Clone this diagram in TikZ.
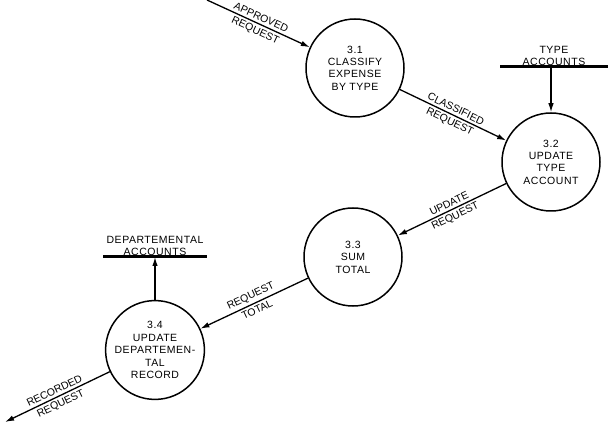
\documentclass[tikz,border=0pt]{standalone}
\usepackage{fontspec}
\setmainfont{Liberation Sans}
\newfontfamily\cfont[LetterSpace=5]{Liberation Sans}
\usetikzlibrary{arrows.meta}
\tikzset{
  proc/.style={circle, draw, line width=1.5pt, minimum size=98pt, inner sep=0pt,
    align=center, font=\cfont\fontsize{10.5}{12.4}\selectfont},
  storetext/.style={align=center, inner sep=1pt, font=\cfont\fontsize{10.5}{12}\selectfont},
  storebar/.style={line width=3pt},
  flow/.style={line width=1.3pt, -{Latex[length=9pt,width=5.5pt]}},
  lab/.style={sloped, inner sep=2.5pt, font=\fontsize{10.5}{12}\selectfont}
}
\begin{document}
\begin{tikzpicture}[x=1pt,y=-1pt]
\useasboundingbox (0,0) rectangle (616,438);
% processes
\node[proc] (p1) at (355,68) {3.1\\CLASSIFY\\EXPENSE\\BY TYPE};
\node[proc] (p2) at (551,162) {3.2\\UPDATE\\TYPE\\ACCOUNT};
\node[proc] (p3) at (353,257) {3.3\\SUM\\TOTAL};
\node[proc] (p4) at (155,350) {3.4\\UPDATE\\DEPARTEMEN-\\TAL\\RECORD};
% stores
\node[storetext, anchor=south] (ts) at (554,67) {TYPE\\ACCOUNTS};
\coordinate (tsl) at (500,67);
\coordinate (tsr) at (608,67);
\coordinate (tsm) at (551,67);
\draw[storebar] (tsl) -- (tsr);
\node[storetext, anchor=south] (ds) at (155,257) {DEPARTEMENTAL\\ACCOUNTS};
\coordinate (dsl) at (103,257);
\coordinate (dsr) at (207,257);
\coordinate (dsm) at (155,257);
\draw[storebar] (dsl) -- (dsr);
% free ends
\coordinate (in) at (207,0);
\coordinate (out) at (5,422);
% flows
\draw[flow] (in) -- (p1)
  node[lab, midway, above] {APPROVED}
  node[lab, midway, below] {REQUEST};
\draw[flow] (p1) -- (p2)
  node[lab, midway, above] {CLASSIFIED}
  node[lab, midway, below] {REQUEST};
\draw[flow] (tsm) -- (p2);
\draw[flow] (p2) -- (p3)
  node[lab, midway, above] {UPDATE}
  node[lab, midway, below] {REQUEST};
\draw[flow] (p3) -- (p4)
  node[lab, midway, above] {REQUEST}
  node[lab, midway, below] {TOTAL};
\draw[flow] (p4) -- (dsm);
\draw[flow] (p4) -- (out)
  node[lab, midway, above] {RECORDED}
  node[lab, midway, below] {REQUEST};
\end{tikzpicture}
\end{document}
